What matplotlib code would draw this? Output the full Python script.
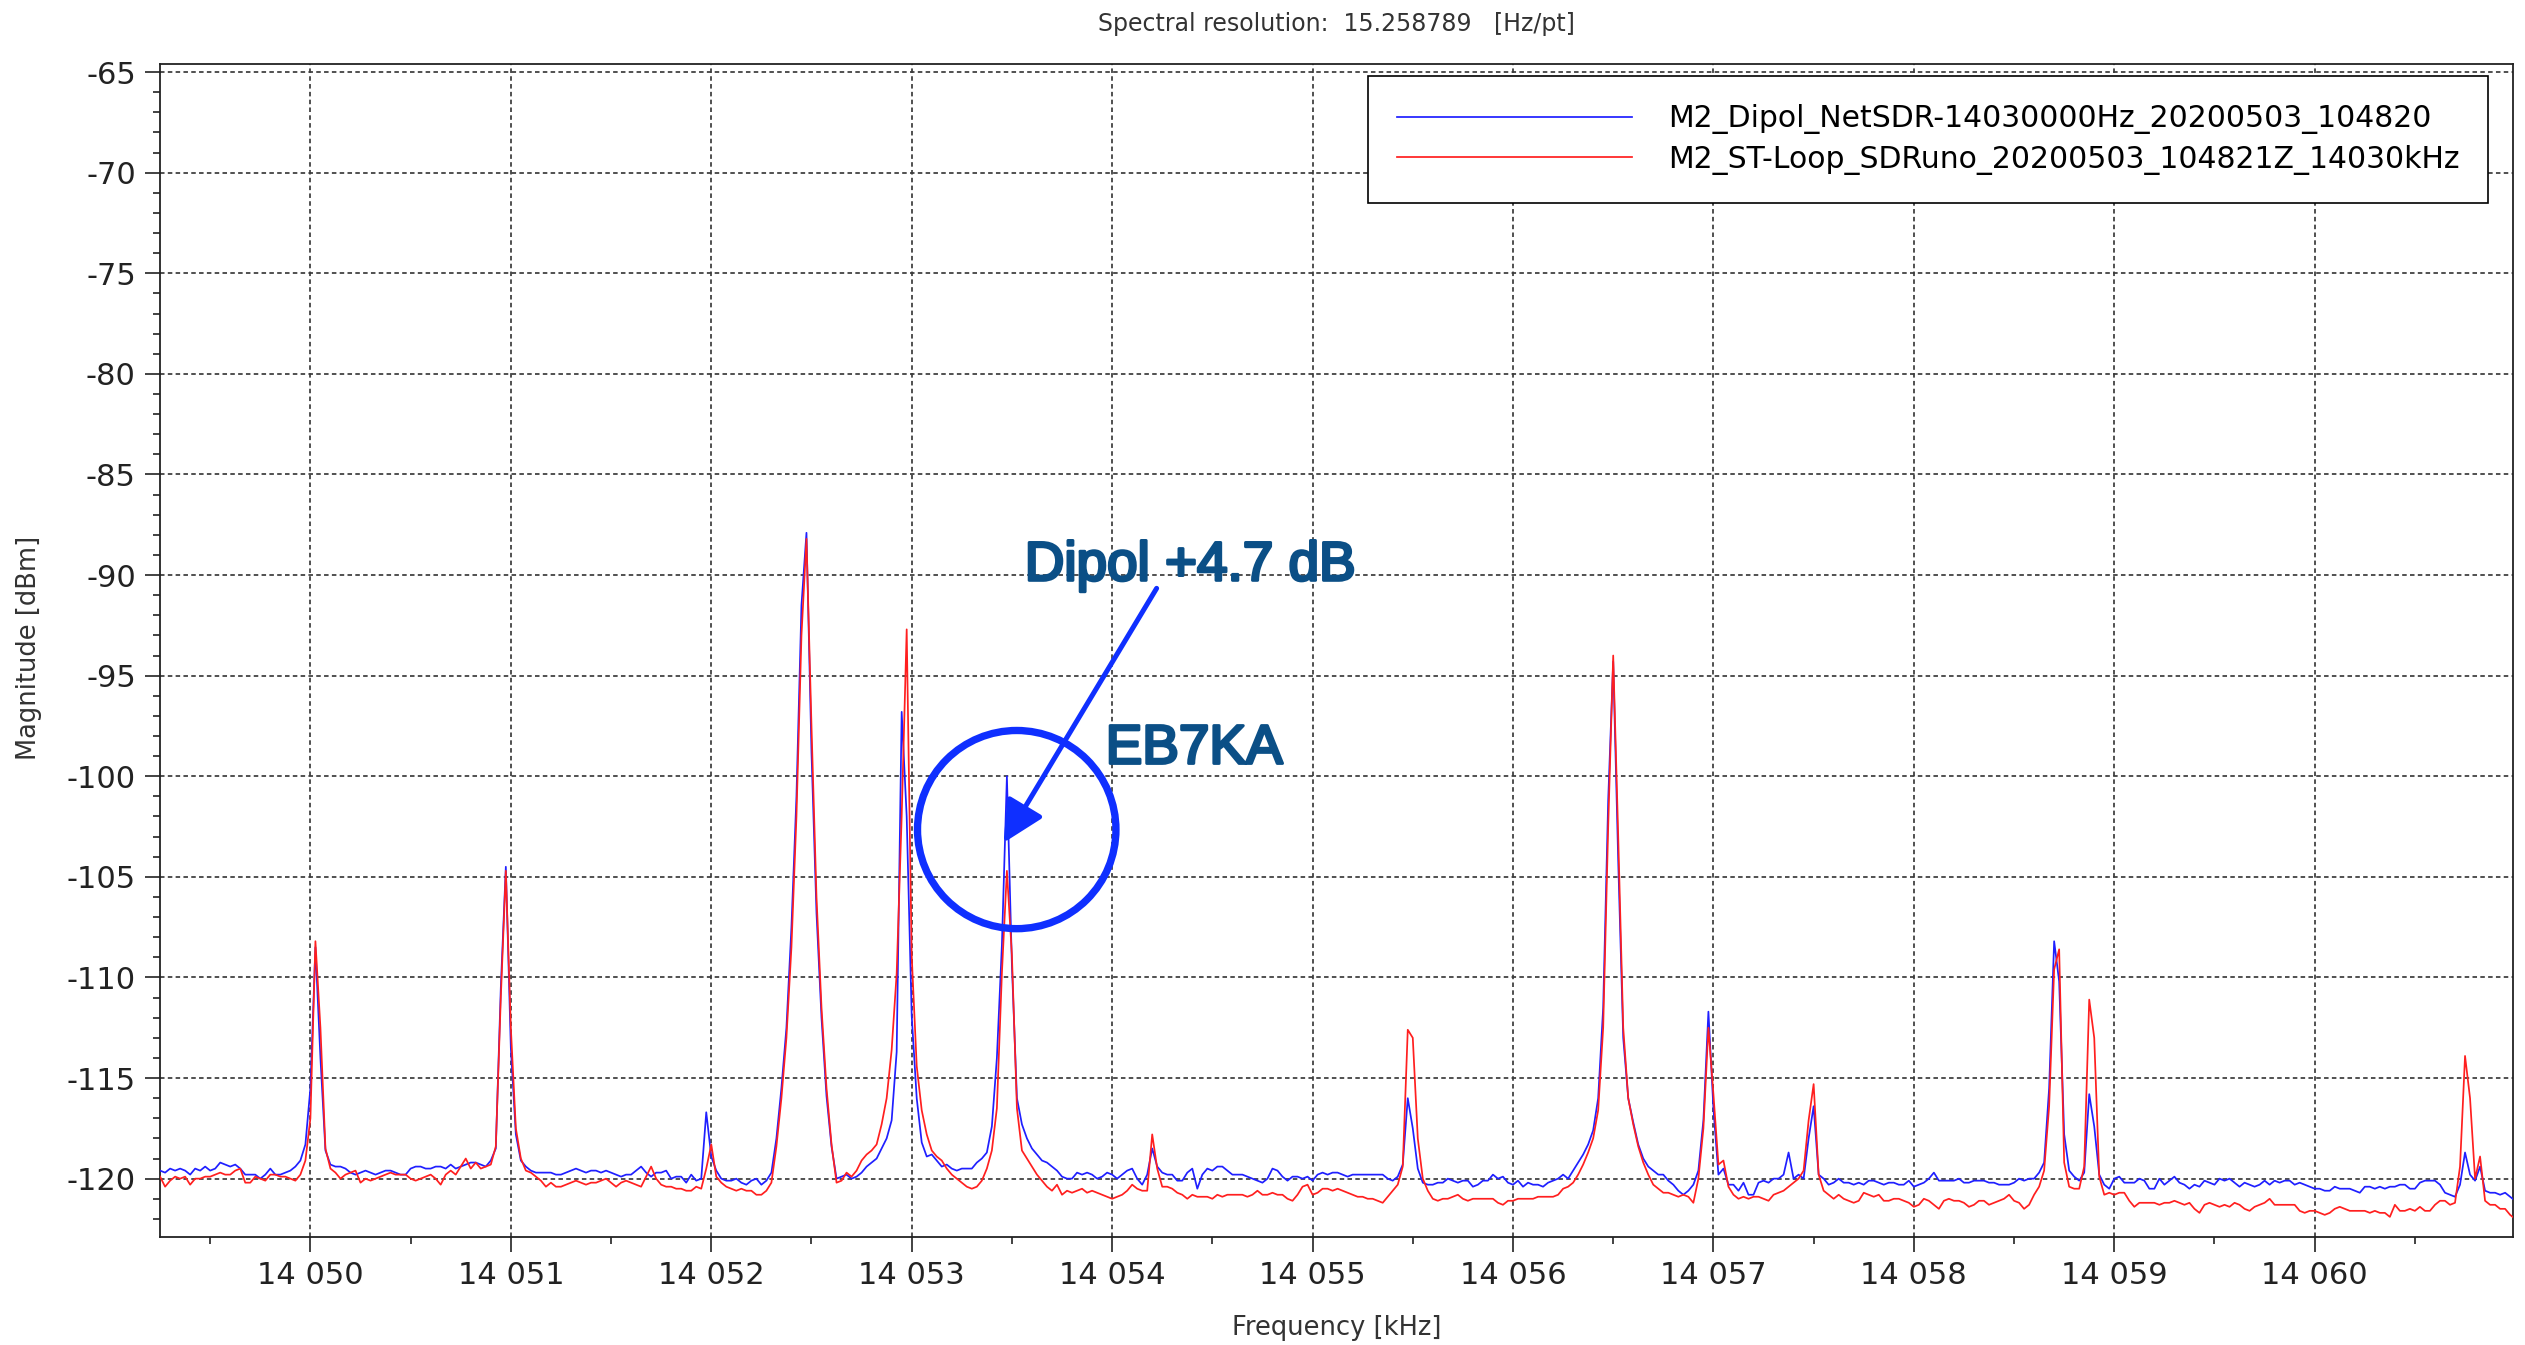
import numpy as np
import matplotlib.pyplot as plt
import matplotlib.patheffects as pe
from matplotlib.patches import Ellipse
from matplotlib.ticker import MultipleLocator, FuncFormatter

plt.rcParams['axes.unicode_minus'] = False

# Spectrum samples, 25 Hz apart, starting at 14049.25 kHz (one row = 0.5 kHz)
F_START = 14049.25
F_STEP = 0.025

dipol_dbm = [
    -119.6, -119.7, -119.5, -119.6, -119.5, -119.6, -119.8, -119.5, -119.6, -119.4, -119.6, -119.5, -119.2, -119.3, -119.4, -119.3, -119.5, -119.8, -119.8, -119.8,  # 14049.25
    -120.0, -119.8, -119.5, -119.8, -119.8, -119.7, -119.6, -119.4, -119.1, -118.3, -115.5, -108.5, -114.0, -118.6, -119.3, -119.4, -119.4, -119.5, -119.7, -119.8,  # 14049.75
    -119.7, -119.6, -119.7, -119.8, -119.7, -119.6, -119.6, -119.7, -119.8, -119.8, -119.5, -119.4, -119.4, -119.5, -119.5, -119.4, -119.4, -119.5, -119.3, -119.5,  # 14050.25
    -119.4, -119.3, -119.2, -119.2, -119.3, -119.4, -119.1, -118.5, -110.5, -104.5, -113.5, -117.8, -119.1, -119.4, -119.6, -119.7, -119.7, -119.7, -119.7, -119.8,  # 14050.75
    -119.8, -119.7, -119.6, -119.5, -119.6, -119.7, -119.6, -119.6, -119.7, -119.6, -119.7, -119.8, -119.9, -119.8, -119.8, -119.6, -119.4, -119.7, -119.9, -119.7,  # 14051.25
    -119.7, -119.6, -120.0, -119.9, -119.9, -120.2, -119.8, -120.1, -120.0, -116.7, -118.9, -119.6, -120.0, -120.1, -120.1, -120.0, -120.2, -120.3, -120.1, -120.0,  # 14051.75
    -120.3, -120.1, -119.7, -118.0, -115.5, -112.5, -107.5, -101.0, -91.5, -87.9, -98.8, -106.8, -112.0, -115.9, -118.4, -120.0, -119.9, -119.8, -120.0, -119.9,  # 14052.25
    -119.7, -119.4, -119.2, -119.0, -118.5, -118.0, -117.1, -113.7, -96.8, -102.0, -111.9, -116.0, -118.2, -118.9, -118.8, -119.1, -119.4, -119.3, -119.5, -119.6,  # 14052.75
    -119.5, -119.5, -119.5, -119.2, -119.0, -118.7, -117.4, -114.0, -108.4, -100.0, -109.4, -116.0, -117.3, -118.0, -118.5, -118.8, -119.1, -119.2, -119.4, -119.6,  # 14053.25
    -119.9, -120.0, -120.0, -119.7, -119.8, -119.7, -119.8, -120.0, -119.9, -119.7, -119.8, -120.0, -119.8, -119.6, -119.5, -120.0, -120.3, -119.8, -118.5, -119.4,  # 14053.75
    -119.7, -119.8, -119.8, -120.1, -120.1, -119.7, -119.5, -120.5, -119.8, -119.5, -119.6, -119.4, -119.4, -119.6, -119.8, -119.8, -119.8, -119.9, -120.0, -120.1,  # 14054.25
    -120.2, -120.0, -119.5, -119.6, -119.9, -120.1, -119.9, -119.9, -120.0, -119.9, -120.1, -119.8, -119.7, -119.8, -119.7, -119.7, -119.8, -119.9, -119.8, -119.8,  # 14054.75
    -119.8, -119.8, -119.8, -119.8, -119.8, -120.0, -120.1, -119.9, -119.3, -116.0, -117.5, -119.5, -120.2, -120.3, -120.3, -120.2, -120.2, -120.0, -120.1, -120.2,  # 14055.25
    -120.1, -120.1, -120.4, -120.3, -120.1, -120.1, -119.8, -120.0, -119.9, -120.2, -120.3, -120.1, -120.4, -120.2, -120.3, -120.3, -120.4, -120.2, -120.1, -120.0,  # 14055.75
    -119.8, -120.0, -119.6, -119.2, -118.8, -118.3, -117.6, -116.0, -111.5, -101.2, -94.3, -104.2, -113.0, -116.0, -117.2, -118.3, -119.0, -119.4, -119.6, -119.8,  # 14056.25
    -119.8, -120.1, -120.3, -120.6, -120.8, -120.6, -120.3, -119.6, -117.1, -111.7, -116.5, -119.8, -119.5, -120.3, -120.3, -120.6, -120.2, -120.8, -120.8, -120.2,  # 14056.75
    -120.1, -120.2, -120.0, -120.0, -119.8, -118.7, -120.0, -119.8, -120.0, -118.0, -116.4, -119.8, -120.0, -120.3, -120.2, -120.0, -120.2, -120.2, -120.3, -120.2,  # 14057.25
    -120.3, -120.1, -120.1, -120.2, -120.3, -120.2, -120.2, -120.3, -120.3, -120.1, -120.4, -120.3, -120.2, -120.0, -119.7, -120.1, -120.1, -120.1, -120.1, -120.0,  # 14057.75
    -120.2, -120.2, -120.1, -120.1, -120.1, -120.2, -120.2, -120.3, -120.3, -120.3, -120.2, -120.0, -120.1, -120.0, -120.0, -119.7, -119.2, -115.5, -108.2, -110.2,  # 14058.25
    -117.8, -119.6, -119.9, -120.1, -119.7, -115.8, -117.4, -119.8, -120.3, -120.5, -120.0, -119.9, -120.2, -120.2, -120.2, -120.0, -120.1, -120.5, -120.5, -120.0,  # 14058.75
    -120.3, -120.1, -119.9, -120.2, -120.3, -120.5, -120.3, -120.4, -120.1, -120.2, -120.3, -120.0, -120.1, -120.0, -120.2, -120.4, -120.2, -120.3, -120.4, -120.3,  # 14059.25
    -120.1, -120.3, -120.1, -120.2, -120.1, -120.1, -120.3, -120.2, -120.3, -120.4, -120.5, -120.5, -120.6, -120.6, -120.4, -120.5, -120.5, -120.5, -120.6, -120.7,  # 14059.75
    -120.4, -120.4, -120.5, -120.4, -120.5, -120.4, -120.4, -120.3, -120.3, -120.5, -120.5, -120.2, -120.1, -120.1, -120.1, -120.3, -120.7, -120.8, -120.9, -120.3,  # 14060.25
    -118.7, -119.8, -120.1, -119.4, -120.6, -120.7, -120.7, -120.8, -120.7, -120.9, -121.1,  # 14060.75
]

loop_dbm = [
    -119.9, -120.4, -120.1, -119.9, -120.0, -119.9, -120.3, -120.0, -120.0, -119.9, -119.9, -119.8, -119.7, -119.8, -119.8, -119.6, -119.5, -120.2, -120.2, -119.9,  # 14049.25
    -120.0, -120.1, -119.8, -119.8, -119.9, -119.9, -120.0, -120.1, -119.8, -119.1, -117.0, -108.2, -112.5, -118.5, -119.5, -119.7, -120.0, -119.8, -119.7, -119.6,  # 14049.75
    -120.2, -120.0, -120.1, -120.0, -119.9, -119.8, -119.7, -119.8, -119.8, -119.8, -120.0, -120.1, -120.0, -119.9, -119.8, -120.0, -120.3, -119.8, -119.6, -119.8,  # 14050.25
    -119.4, -119.0, -119.5, -119.2, -119.5, -119.4, -119.3, -118.4, -111.0, -104.7, -112.5, -117.5, -119.0, -119.6, -119.7, -119.9, -120.1, -120.4, -120.2, -120.4,  # 14050.75
    -120.4, -120.3, -120.2, -120.1, -120.2, -120.3, -120.2, -120.2, -120.1, -120.0, -120.2, -120.4, -120.2, -120.1, -120.2, -120.3, -120.4, -119.9, -119.4, -120.0,  # 14051.25
    -120.3, -120.4, -120.4, -120.5, -120.5, -120.6, -120.6, -120.4, -120.5, -119.5, -118.3, -119.9, -120.2, -120.4, -120.5, -120.6, -120.5, -120.6, -120.6, -120.8,  # 14051.75
    -120.8, -120.6, -120.2, -118.4, -116.0, -113.0, -108.5, -102.0, -93.0, -88.2, -97.5, -106.0, -111.5, -115.5, -118.3, -120.2, -120.1, -119.7, -119.9, -119.6,  # 14052.25
    -119.1, -118.8, -118.6, -118.3, -117.3, -116.0, -113.6, -109.8, -102.0, -92.7, -108.9, -114.4, -116.6, -117.8, -118.6, -118.9, -119.1, -119.5, -119.8, -120.0,  # 14052.75
    -120.2, -120.4, -120.5, -120.4, -120.1, -119.5, -118.6, -116.5, -109.8, -104.7, -108.9, -116.5, -118.6, -119.0, -119.4, -119.8, -120.1, -120.4, -120.6, -120.3,  # 14053.25
    -120.8, -120.6, -120.7, -120.6, -120.5, -120.7, -120.6, -120.7, -120.8, -120.9, -121.0, -120.9, -120.8, -120.6, -120.3, -120.5, -120.6, -120.6, -117.8, -119.5,  # 14053.75
    -120.4, -120.4, -120.5, -120.7, -120.8, -121.0, -120.8, -120.9, -120.9, -120.9, -121.0, -120.8, -120.9, -120.8, -120.8, -120.8, -120.8, -120.9, -120.8, -120.6,  # 14054.25
    -120.8, -120.8, -120.7, -120.8, -120.8, -121.0, -121.1, -120.8, -120.4, -120.3, -120.8, -120.7, -120.5, -120.5, -120.6, -120.5, -120.6, -120.7, -120.8, -120.9,  # 14054.75
    -120.9, -121.0, -121.0, -121.1, -121.2, -120.9, -120.6, -120.3, -119.4, -112.6, -113.0, -118.0, -120.0, -120.6, -121.0, -121.1, -121.0, -121.0, -120.9, -120.8,  # 14055.25
    -121.0, -121.1, -121.0, -121.0, -121.0, -121.0, -121.0, -121.2, -121.3, -121.1, -121.1, -121.0, -121.0, -121.0, -121.0, -120.9, -120.9, -120.9, -120.9, -120.8,  # 14055.75
    -120.5, -120.4, -120.2, -119.8, -119.3, -118.7, -118.0, -116.6, -112.5, -102.5, -94.0, -103.0, -112.5, -116.0, -117.3, -118.4, -119.2, -119.8, -120.3, -120.5,  # 14056.25
    -120.7, -120.7, -120.8, -120.9, -120.8, -120.9, -121.2, -120.0, -117.5, -112.5, -115.8, -119.3, -119.1, -120.4, -120.8, -121.0, -120.9, -121.0, -120.9, -120.9,  # 14056.75
    -121.0, -121.1, -120.8, -120.7, -120.6, -120.4, -120.2, -120.0, -119.6, -117.1, -115.3, -119.8, -120.6, -120.8, -121.0, -120.8, -121.0, -121.1, -121.2, -121.1,  # 14057.25
    -120.7, -120.8, -120.9, -120.8, -121.1, -121.1, -121.0, -121.0, -121.1, -121.2, -121.4, -121.3, -121.0, -121.1, -121.3, -121.5, -121.1, -121.0, -121.1, -121.1,  # 14057.75
    -121.2, -121.4, -121.3, -121.1, -121.1, -121.3, -121.2, -121.1, -121.0, -120.8, -121.1, -121.2, -121.5, -121.3, -120.8, -120.4, -119.6, -116.4, -109.6, -108.6,  # 14058.25
    -119.2, -120.4, -120.5, -120.5, -119.4, -111.1, -113.0, -119.9, -120.8, -120.7, -120.8, -120.7, -120.7, -121.1, -121.4, -121.2, -121.2, -121.2, -121.2, -121.3,  # 14058.75
    -121.2, -121.2, -121.1, -121.2, -121.3, -121.2, -121.5, -121.7, -121.3, -121.2, -121.3, -121.4, -121.3, -121.4, -121.2, -121.3, -121.5, -121.6, -121.4, -121.3,  # 14059.25
    -121.2, -121.0, -121.3, -121.3, -121.3, -121.3, -121.3, -121.6, -121.7, -121.6, -121.6, -121.7, -121.8, -121.7, -121.5, -121.4, -121.5, -121.6, -121.6, -121.6,  # 14059.75
    -121.6, -121.7, -121.6, -121.7, -121.7, -121.9, -121.3, -121.6, -121.6, -121.5, -121.6, -121.4, -121.6, -121.6, -121.3, -121.1, -121.1, -121.3, -121.2, -119.4,  # 14060.25
    -113.9, -116.0, -120.0, -118.9, -121.1, -121.3, -121.3, -121.5, -121.5, -121.8, -122.0,  # 14060.75
]

freq_khz = F_START + F_STEP * np.arange(len(dipol_dbm))

dipol_name = "M2_Dipol_NetSDR-14030000Hz_20200503_104820"
loop_name = "M2_ST-Loop_SDRuno_20200503_104821Z_14030kHz"

fig = plt.figure(figsize=(25.25, 13.45), dpi=100)
ax = fig.add_axes([0.0634, 0.0803, 0.9319, 0.8721])

ax.plot(freq_khz, dipol_dbm, color="#1f1fff", lw=1.25, label=dipol_name, zorder=3)
ax.plot(freq_khz, loop_dbm, color="#ff1f1f", lw=1.25, label=loop_name, zorder=3)

ax.set_xlim(14049.25, 14060.99)
ax.set_ylim(-122.9, -64.6)
ax.xaxis.set_major_locator(MultipleLocator(1))
ax.xaxis.set_minor_locator(MultipleLocator(0.5))
ax.yaxis.set_major_locator(MultipleLocator(5))
ax.yaxis.set_minor_locator(MultipleLocator(1))
ax.xaxis.set_major_formatter(FuncFormatter(lambda v, p: f"{v:,.0f}".replace(",", " ")))

ax.grid(True, which="major", linestyle=(0, (2.6, 1.9)), color="#3a3a3a", lw=1.25)
ax.tick_params(which="major", length=10.5, width=1.2, labelsize=22, pad=7, colors="#222222")
ax.tick_params(which="minor", length=5, width=1.2, colors="#222222")
for s in ax.spines.values():
    s.set_linewidth(1.3)
    s.set_color("#222222")

leg = ax.legend(loc="upper right", bbox_to_anchor=(0.9894, 0.9898), fontsize=21.5,
                handlelength=7.9, handletextpad=1.2, labelspacing=0.35, borderpad=0.95,
                borderaxespad=0, fancybox=False, edgecolor="black", framealpha=1)
leg.get_frame().set_linewidth(1.2)

fig.text(0.5293, 0.982, "Spectral resolution:  15.258789   [Hz/pt]", ha="center", va="center",
         fontsize=17, color="#333333")
fig.text(0.5295, 0.0126, "Frequency [kHz]", ha="center", va="center", fontsize=18.5, color="#333333")
fig.text(0.0115, 0.518, "Magnitude [dBm]", ha="center", va="center", rotation=90, fontsize=18.5,
         color="#333333")

# EB7KA marker: circle, arrow and labels
mark_blue = "#0f2fff"
label_blue = "#0b4f86"
ax.add_patch(Ellipse((14053.524, -102.65), 0.99, 9.85, fill=False, ec=mark_blue, lw=5.3, zorder=5))
ax.annotate("", xy=(14053.459, -103.3), xytext=(14054.222, -90.66),
            arrowprops=dict(arrowstyle="-|>,head_length=0.9,head_width=0.45", color=mark_blue,
                            lw=3.6, shrinkA=0, shrinkB=0, mutation_scale=28), zorder=6)
medium = [pe.withStroke(linewidth=2.2, foreground=label_blue)]
ax.text(14053.564, -90.26, "Dipol +4.7 dB", color=label_blue, fontsize=39.5,
        family="Liberation Sans", ha="left", va="baseline", zorder=6, path_effects=medium)
ax.text(14053.968, -99.36, "EB7KA", color=label_blue, fontsize=39.5,
        family="Liberation Sans", ha="left", va="baseline", zorder=6, path_effects=medium)

fig.savefig("out.png", dpi=100)
